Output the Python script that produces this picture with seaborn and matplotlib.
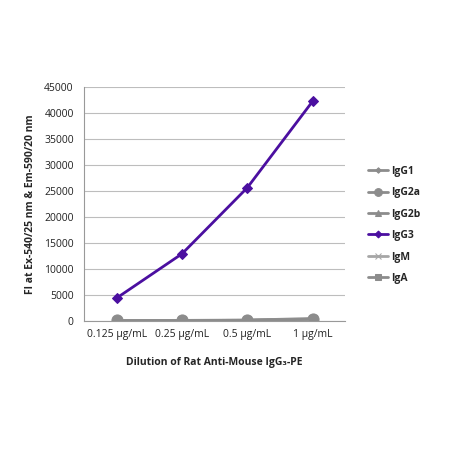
import pandas as pd
import seaborn as sns
import matplotlib.pyplot as plt

dilutions = ["0.125 µg/mL", "0.25 µg/mL", "0.5 µg/mL", "1 µg/mL"]
isotypes = ["IgG1", "IgG2a", "IgG2b", "IgG3", "IgM", "IgA"]
igg1 = [60, 70, 90, 250]
igg2a = [80, 90, 150, 450]
igg2b = [60, 70, 100, 300]
igg3 = [4400, 12900, 25600, 42200]
igm = [50, 60, 80, 200]
iga = [60, 70, 100, 300]

vals = {"IgG1": igg1, "IgG2a": igg2a, "IgG2b": igg2b, "IgG3": igg3, "IgM": igm, "IgA": iga}
rows = []
for iso in isotypes:
    for i, d in enumerate(dilutions):
        rows.append({"pos": i, "dil": d, "iso": iso, "fi": vals[iso][i]})
df = pd.DataFrame(rows)

gray = "#8c8c8c"
palette = {"IgG1": gray, "IgG2a": gray, "IgG2b": gray, "IgG3": "#4b0fa0", "IgM": "#a6a6a6", "IgA": gray}
markers = {"IgG1": "D", "IgG2a": "o", "IgG2b": "^", "IgG3": "D", "IgM": "x", "IgA": "s"}
sizes = {"IgG1": 4, "IgG2a": 8, "IgG2b": 7, "IgG3": 5, "IgM": 6, "IgA": 6}

sns.set_style("white")
plt.rcParams["font.family"] = ["Open Sans", "DejaVu Sans"]

fig = plt.figure(figsize=(4.5, 4.5), dpi=100)
ax = fig.add_axes([0.187, 0.287, 0.58, 0.52])

for iso in isotypes:
    sub = df[df["iso"] == iso]
    sns.lineplot(data=sub, x="pos", y="fi", ax=ax, color=palette[iso], marker=markers[iso],
                 markersize=sizes[iso], markeredgecolor=palette[iso], linewidth=2.0,
                 label=iso, zorder=3 if iso == "IgG3" else 2)

ax.set_xlim(-0.5, 3.5)
ax.set_ylim(0, 45000)
ax.set_yticks(range(0, 45001, 5000))
ax.set_xticks(range(4))
ax.set_xticklabels(dilutions)
ax.set_xticks([-0.5, 0.5, 1.5, 2.5, 3.5], minor=True)
ax.tick_params(axis="x", which="major", length=0, labelsize=7.5, colors="#222222", pad=6)
ax.tick_params(axis="x", which="minor", length=4, color="#999999")
ax.tick_params(axis="y", length=4, color="#999999", labelsize=7.5, colors="#222222")
ax.grid(axis="y", color="#bdbdbd", linewidth=0.8)
ax.set_axisbelow(True)
for s in ["top", "right"]:
    ax.spines[s].set_visible(False)
for s in ["left", "bottom"]:
    ax.spines[s].set_color("#999999")
    ax.spines[s].set_linewidth(0.8)

ax.set_xlabel("Dilution of Rat Anti-Mouse IgG₃-PE", fontsize=7.5, fontweight="bold", labelpad=12)
ax.set_ylabel("FI at Ex-540/25 nm & Em-590/20 nm", fontsize=7.5, fontweight="bold", labelpad=6)

leg = ax.legend(loc="center left", bbox_to_anchor=(1.05, 0.41), frameon=False,
                handlelength=2.0, labelspacing=1.0, markerscale=0.7, handletextpad=0.3,
                prop={"weight": "bold", "size": 7.5})

fig.savefig("out.png", dpi=100)
